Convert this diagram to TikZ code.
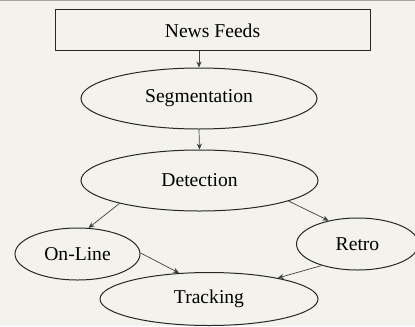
\documentclass[tikz,border=0pt]{standalone}
\usepackage{fontspec}
\setmainfont{Liberation Serif}
\usetikzlibrary{arrows.meta, shapes.geometric}
\definecolor{paper}{HTML}{F3F2EC}
\definecolor{rule}{HTML}{A3A3A3}

\begin{document}
\begin{tikzpicture}[x=0.5pt, y=-0.5pt,
  every node/.style={font=\fontsize{9.8}{12}\selectfont, inner sep=0pt},
  stage/.style={draw=black!85, line width=0.5pt, ellipse},
  source/.style={draw=black!85, line width=0.5pt, rectangle},
  flow/.style={draw=black!75, line width=0.35pt, -{Stealth[length=3pt, width=2.6pt]}}]
\useasboundingbox (0,0) rectangle (415,326);
\clip (0,0) rectangle (415,326);
\fill [paper] (0,0) rectangle (415,326);
\draw [rule, line width=0.6pt] (0,0.5) -- (415,0.5);
\node (feeds) at (212.5,30.5) [source, minimum width=157.5pt, minimum height=20.5pt] {News Feeds};
\node (seg) at (199,98.5) [stage, minimum width=118pt, minimum height=30.5pt] {Segmentation};
\node (det) at (199.5,180.5) [stage, minimum width=118.5pt, minimum height=30.5pt] {Detection};
\node (online) at (77.5,254) [stage, minimum width=62.5pt, minimum height=26pt] {On-Line};
\node (retro) at (357.5,244) [stage, minimum width=61pt, minimum height=26pt] {Retro};
\node (track) at (209,299) [stage, minimum width=109pt, minimum height=26.5pt] {Tracking};
\draw [flow] (feeds.south -| seg.north) -- (seg.north);
\draw [flow] (seg.south) -- (det.north);
\draw [flow] (det.196) -- (online.67);
\draw [flow] (det.347) -- (retro.141);
\draw [flow] (online.1) -- (track.139);
\draw [flow] (retro.211) -- (track.17);
\end{tikzpicture}
\end{document}
